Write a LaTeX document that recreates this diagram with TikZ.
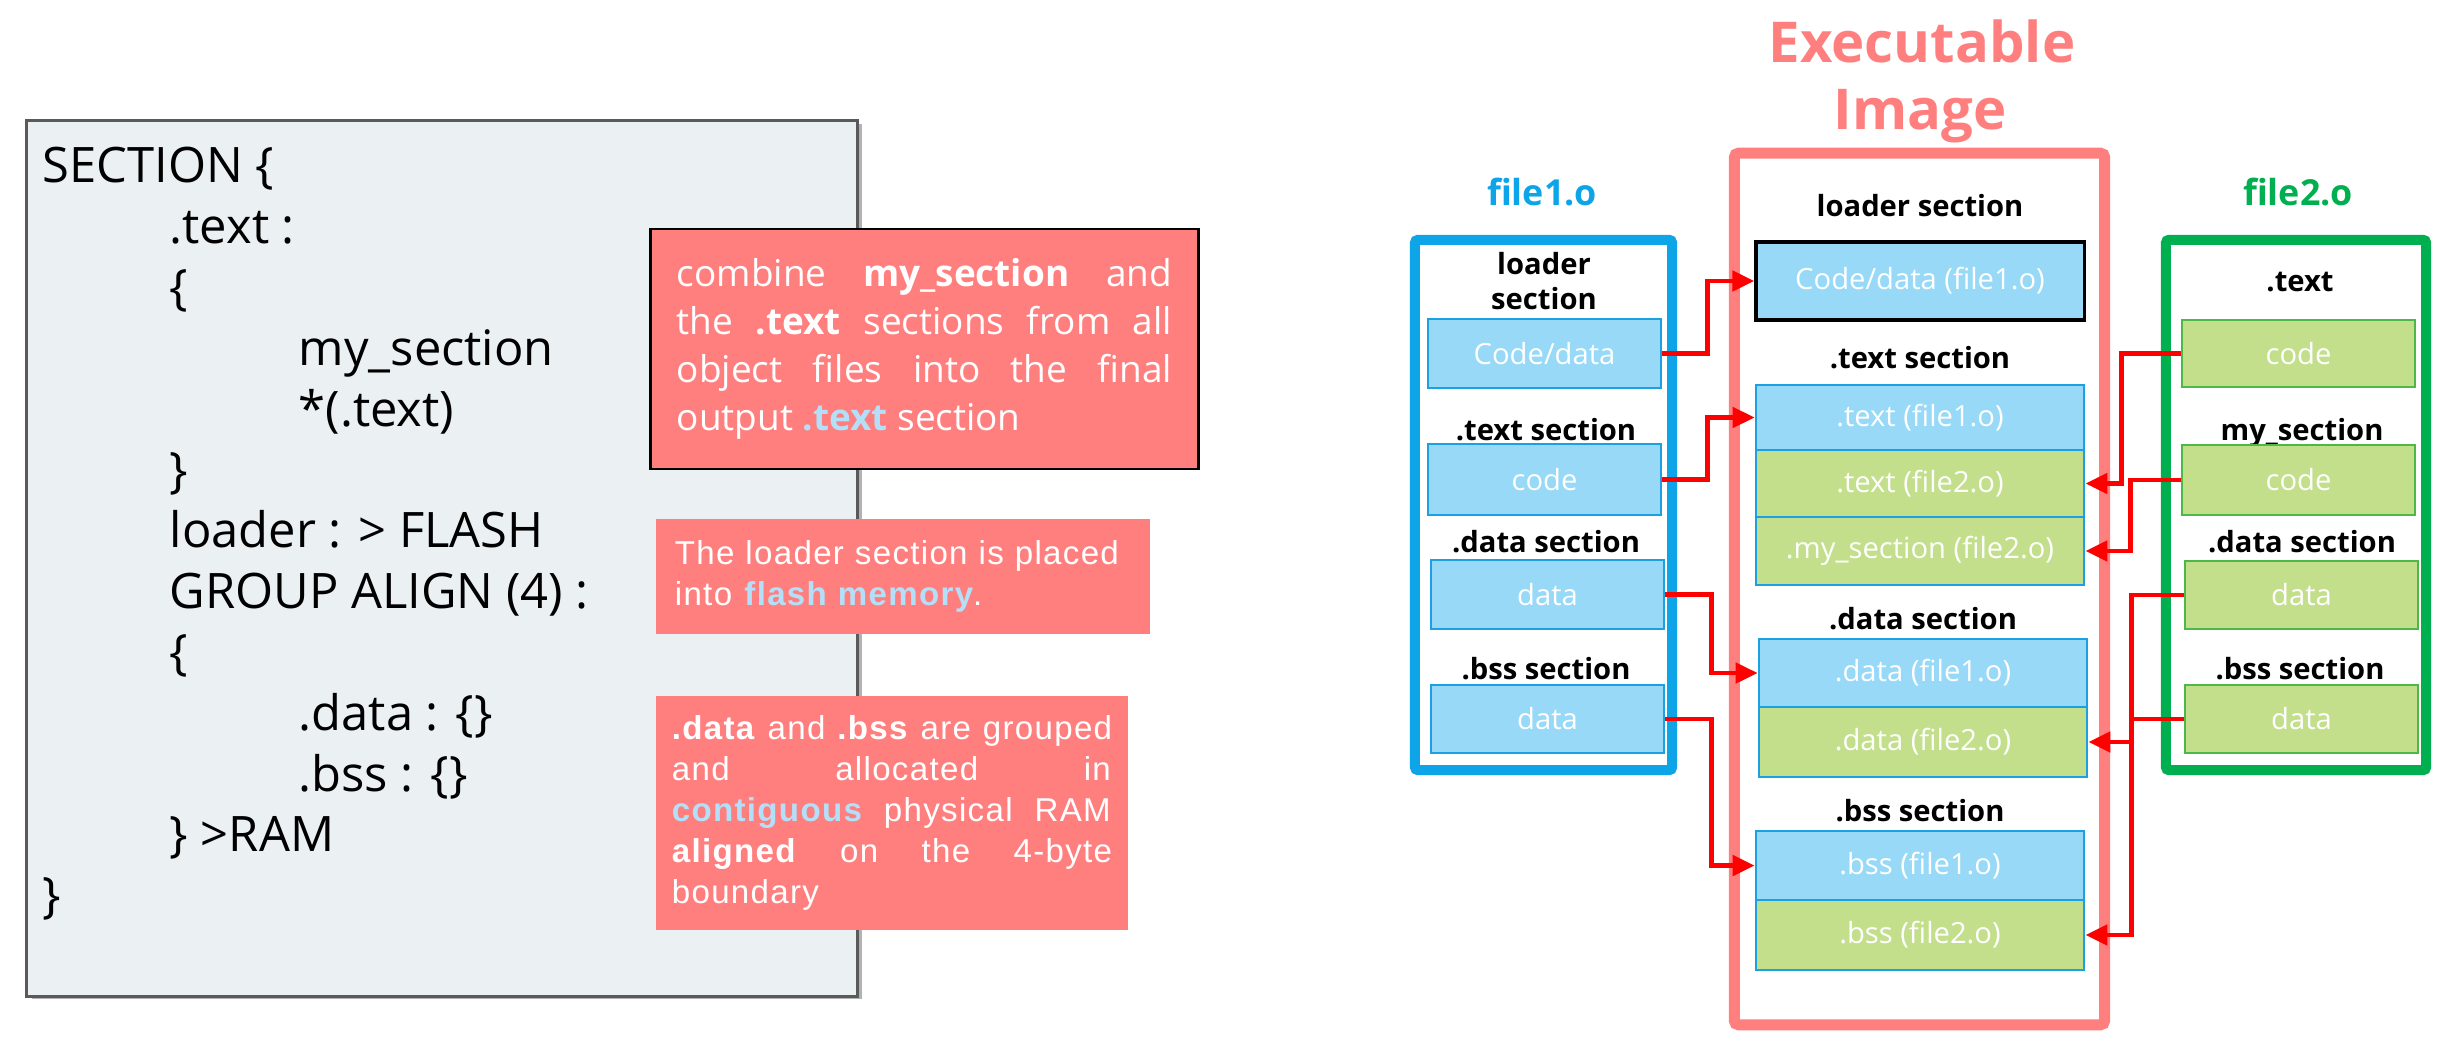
\documentclass[tikz,border=0pt]{standalone}
\usepackage{fontspec}
\setmainfont{Open Sans}
\newfontfamily\lib[LetterSpace=4]{Liberation Sans}
\usetikzlibrary{arrows.meta,shadows}
\definecolor{salmon}{HTML}{FF7F7F}
\definecolor{lblue}{HTML}{97D9F7}
\definecolor{bblue}{HTML}{1BA1E2}
\definecolor{fblue}{HTML}{0DA5E8}
\definecolor{lgreen}{HTML}{C3DF8C}
\definecolor{bgreen}{HTML}{4DB848}
\definecolor{fgreen}{HTML}{00B050}
\definecolor{panel}{HTML}{EBF0F3}
\definecolor{hl}{HTML}{B3E0F8}
\definecolor{arrred}{HTML}{FF0000}
\begin{document}
\begin{tikzpicture}[x=0.01cm,y=-0.01cm,
  codeln/.style={anchor=base west, inner sep=0, font=\fontsize{13.9}{16}\selectfont},
  boxtxt/.style={text=white, inner sep=0, font=\fontsize{8.3}{10}\selectfont},
  bluebox/.style={boxtxt, draw=bblue, fill=lblue, line width=0.7pt},
  greenbox/.style={boxtxt, draw=bgreen, fill=lgreen, line width=0.7pt},
  cgreenbox/.style={boxtxt, draw=bblue, fill=lgreen, line width=0.7pt},
  lbl/.style={anchor=base, inner sep=0, font=\fontsize{8.3}{10}\selectfont\bfseries},
  ftitle/.style={anchor=base, inner sep=0, font=\fontsize{10.2}{12}\selectfont\bfseries},
  conn/.style={draw=arrred, line width=1.4pt, -{Triangle[length=2.2mm,width=2mm]}},
  note/.style={fill=salmon, text=white, inner sep=0},
  loose/.style={execute at begin node={\tolerance=10000\relax\hbadness=10000\relax}},
]
\useasboundingbox (0,0) rectangle (2443,1049);

% ---------- left panel ----------
\node[draw={rgb,255:red,90;green,90;blue,90}, fill=panel, line width=0.03cm,
      minimum width=8.30cm, minimum height=8.75cm, inner sep=0,
      drop shadow={shadow xshift=0.05cm, shadow yshift=-0.03cm, fill=black, opacity=0.3}]
      (panelbox) at (442,558.5) {};

\node[codeln] (c0) at (42,183) {SECTION \{};
\node[codeln] (c1) at (169,243.8) {.text :};
\node[codeln] (c2) at (169,304.6) {\{};
\node[codeln] (c3) at (298,365.4) {my\_section};
\node[codeln] (c4) at (298,426.2) {*(.text)};
\node[codeln] (c5) at (169,487) {\}};
\node[codeln] (c6) at (169,547.8) {loader : > FLASH};
\node[codeln] (c7) at (169,608.6) {GROUP ALIGN (4) :};
\node[codeln] (c8) at (169,669.4) {\{};
\node[codeln] (c9) at (298,730.2) {.data : \{\}};
\node[codeln] (c10) at (298,791) {.bss : \{\}};
\node[codeln] (c11) at (169,851.8) {\} >RAM};
\node[codeln] (c12) at (42,912.6) {\}};

% ---------- notes ----------
\node[note, loose, draw=black, line width=0.8pt, minimum width=5.47cm, minimum height=2.40cm,
      text width=4.95cm, align=justify, font=\fontsize{10.5}{13.7}\selectfont]
      (n1) at (924.5,349)
      {combine \textbf{my\_section} and\linebreak the \textbf{.text} sections from all\linebreak object files into the final\linebreak output \textbf{\color{hl}.text} section};

\node[note, minimum width=4.94cm, minimum height=1.15cm, text width=4.56cm, align=left,
      font=\lib\fontsize{9.4}{11.9}\selectfont]
      (n2) at (903,576.5)
      {The loader section is placed\\into \textbf{\color{hl}flash memory}.};

\node[note, loose, minimum width=4.72cm, minimum height=2.34cm, text width=4.40cm, align=justify,
      font=\lib\fontsize{9.4}{11.7}\selectfont]
      (n3) at (892,813)
      {\textbf{.data} and \textbf{.bss} are grouped\linebreak and allocated in\linebreak \textbf{\color{hl}contiguous} physical RAM\linebreak \textbf{aligned} on the 4-byte\linebreak boundary};

% ---------- titles ----------
\node[anchor=base, inner sep=0, text=salmon,
      font=\fontsize{16}{19}\selectfont\bfseries] (ttl1) at (1922,63) {Executable};
\node[anchor=base, inner sep=0, text=salmon,
      font=\fontsize{16}{19}\selectfont\bfseries] (ttl2) at (1920,130) {Image};
\node[ftitle, text=fblue] (f1t) at (1542,206) {file1.o};
\node[ftitle, text=fgreen] (f2t) at (2298,206) {file2.o};

% ---------- containers ----------
\node[draw=salmon, line width=0.11cm, rounded corners=0.04cm, minimum width=3.70cm,
      minimum height=8.71cm, inner sep=0] (exec) at (1919.5,589) {};
\node[draw=fblue, line width=0.10cm, rounded corners=0.03cm, minimum width=2.57cm,
      minimum height=5.30cm, inner sep=0] (f1) at (1543.5,505) {};
\node[draw=fgreen, line width=0.10cm, rounded corners=0.03cm, minimum width=2.60cm,
      minimum height=5.30cm, inner sep=0] (f2) at (2296,505) {};

% ---------- file1.o ----------
\node[lbl] (f1l1) at (1544,275) {loader};
\node[lbl] (f1l2) at (1544,310) {section};
\node[bluebox, minimum width=2.33cm, minimum height=0.69cm] (ldr1) at (1544.5,353.5) {Code/data};
\node[lbl] (f1l3) at (1546,440) {.text section};
\node[bluebox, minimum width=2.33cm, minimum height=0.71cm] (code1) at (1544.5,479.5) {code};
\node[lbl] (f1l4) at (1546,552) {.data section};
\node[bluebox, minimum width=2.33cm, minimum height=0.69cm] (data1) at (1547.5,594.5) {data};
\node[lbl] (f1l5) at (1546,679) {.bss section};
\node[bluebox, minimum width=2.33cm, minimum height=0.68cm] (bss1) at (1547.5,719) {data};

% ---------- file2.o ----------
\node[lbl] (f2l1) at (2300,292) {.text};
\node[greenbox, minimum width=2.33cm, minimum height=0.67cm] (code2a) at (2298.5,353.5) {code};
\node[lbl] (f2l2) at (2302,440) {my\_section};
\node[greenbox, minimum width=2.33cm, minimum height=0.70cm] (code2b) at (2298.5,480) {code};
\node[lbl] (f2l3) at (2302,552) {.data section};
\node[greenbox, minimum width=2.33cm, minimum height=0.68cm] (data2) at (2301.5,595) {data};
\node[lbl] (f2l4) at (2300,679) {.bss section};
\node[greenbox, minimum width=2.33cm, minimum height=0.68cm] (bss2) at (2301.5,719) {data};

% ---------- executable image ----------
\node[lbl] (el1) at (1920,217) {loader section};
\node[bluebox, draw=black, line width=0.9pt, minimum width=3.28cm, minimum height=0.78cm] (cd) at (1920,281) {Code/data (file1.o)};
\node[lbl] (el2) at (1920,369) {.text section};
\node[bluebox, minimum width=3.28cm, minimum height=0.65cm] (t1) at (1920,417.5) {.text (file1.o)};
\node[cgreenbox, minimum width=3.28cm, minimum height=0.67cm] (t2) at (1920,483.5) {.text (file2.o)};
\node[cgreenbox, minimum width=3.28cm, minimum height=0.68cm] (ms) at (1920,551) {.my\_section (file2.o)};
\node[lbl] (el3) at (1923,629) {.data section};
\node[bluebox, minimum width=3.28cm, minimum height=0.68cm] (d1) at (1923,673) {.data (file1.o)};
\node[cgreenbox, minimum width=3.28cm, minimum height=0.70cm] (d2) at (1923,742) {.data (file2.o)};
\node[lbl] (el4) at (1920,821) {.bss section};
\node[bluebox, minimum width=3.28cm, minimum height=0.69cm] (b1) at (1920,865.5) {.bss (file1.o)};
\node[cgreenbox, minimum width=3.28cm, minimum height=0.70cm] (b2) at (1920,935) {.bss (file2.o)};

% ---------- connectors ----------
\draw[conn] (ldr1.east) -- ++(45,0) |- (cd.west);
\draw[conn] (code1.east) -- ++(45,0) |- (t1.west);
\draw[conn] (data1.east) -- ++(46,0) |- (d1.west);
\draw[conn] (bss1.east) -- ++(46,0) |- (b1.west);
\draw[conn] (code2a.west) -- ++(-59,0) |- (t2.east);
\draw[conn] (code2b.west) -- ++(-50,0) |- (ms.east);
\draw[conn] (data2.west) -- ++(-52,0) |- (d2.east);
\draw[conn] (bss2.west) -- ++(-52,0) |- (b2.east);
\end{tikzpicture}
\end{document}
